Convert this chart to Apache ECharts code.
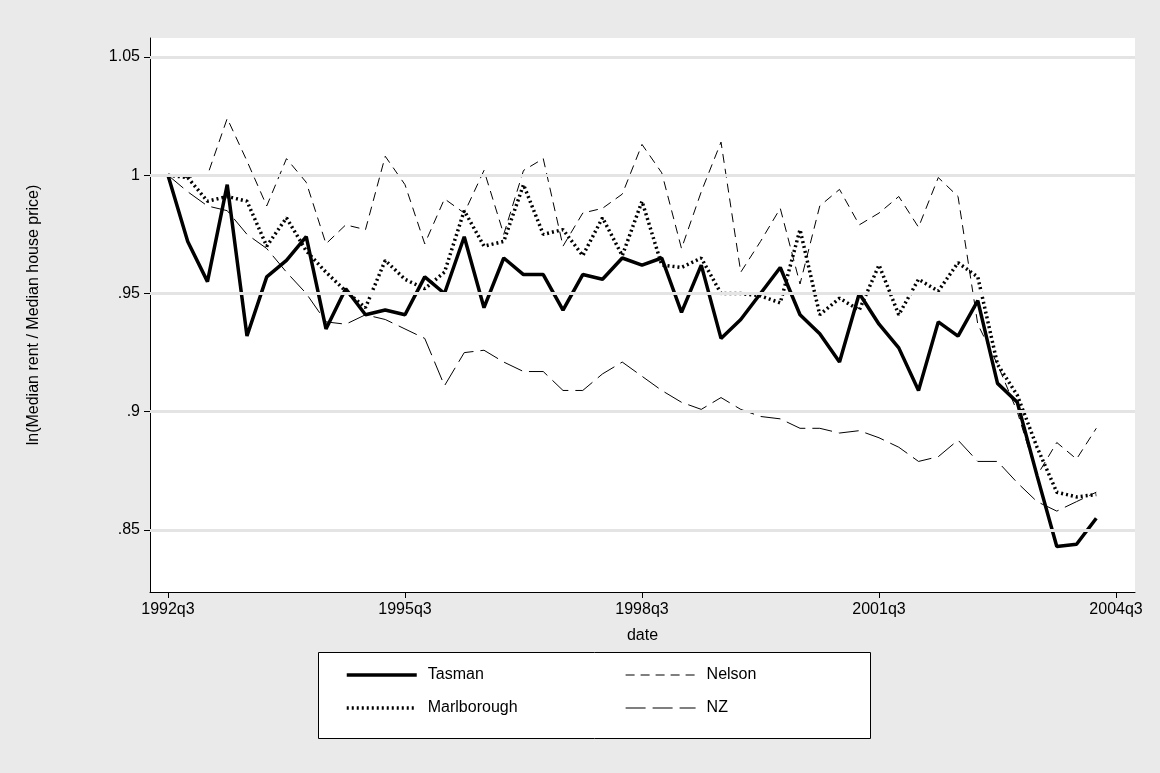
<!DOCTYPE html>
<html><head><meta charset="utf-8">
<script src="https://cdn.jsdelivr.net/npm/echarts@6/dist/echarts.min.js"></script>
<style>html,body{margin:0;background:#eaeaea}#c{width:1160px;height:773px}</style>
</head><body><div id="c"></div>
<script>
const quarterLabels = ['1992q3', '1995q3', '1998q3', '2001q3', '2004q3'];
const xTicks = [0, 12, 24, 36, 48];
const yTicks = [0.85, 0.9, 0.95, 1, 1.05];
const tasman = [1.000,.972,.955,.996,.932,.957,.964,.974,.935,.952,.941,.943,.941,.957,.950,.974,.944,.965,.958,.958,.943,.958,.956,.965,.962,.965,.942,.962,.931,.939,.950,.961,.941,.933,.921,.950,.937,.927,.909,.938,.932,.947,.912,.904,.873,.843,.844,.855];
const marlborough = [1.000,.999,.989,.991,.989,.970,.982,.968,.959,.951,.944,.964,.956,.952,.959,.985,.970,.972,.996,.975,.977,.966,.982,.966,.989,.962,.961,.965,.950,.950,.949,.946,.977,.941,.948,.943,.962,.941,.956,.951,.963,.957,.920,.907,.885,.866,.864,.865];
const nelson = [1.000,.999,1.000,1.024,1.006,.987,1.007,.997,.971,.979,.977,1.008,.996,.971,.990,.984,1.002,.975,1.002,1.007,.970,.984,.986,.992,1.013,1.001,.969,.993,1.014,.959,.972,.986,.954,.987,.994,.979,.984,.991,.978,.999,.991,.937,.920,.900,.873,.887,.880,.893];
const nz = [1.000,.993,.987,.985,.975,.969,.959,.950,.938,.937,.941,.939,.935,.931,.911,.925,.926,.921,.917,.917,.909,.909,.916,.921,.915,.909,.904,.901,.906,.901,.898,.897,.893,.893,.891,.892,.889,.885,.879,.881,.888,.879,.879,.870,.862,.858,.862,.866];

const chart = echarts.init(document.getElementById('c'));
const pts = a => a.map((v, i) => [i, v]);
const font = 'Liberation Sans, Arial, sans-serif';
const mk = (name, data, width, type) => ({
  name, type: 'line', data: pts(data), symbol: 'none', z: 3,
  lineStyle: {color: '#000', width, type}, itemStyle: {color: '#000'}
});
const gridLines = {
  silent: true, symbol: 'none', label: {show: false},
  lineStyle: {color: '#e4e4e4', width: 3, type: 'solid'},
  data: yTicks.map(v => ({yAxis: v}))
};
const tasmanSeries = mk('Tasman', tasman, 3.5, 'solid');
tasmanSeries.markLine = gridLines;
const legendText = {fontSize: 16, color: '#000', padding: [0, 0, 0, 6]};
chart.setOption({
  animation: false,
  backgroundColor: '#eaeaea',
  textStyle: {fontFamily: font},
  graphic: [
    {type: 'rect', z: -10, shape: {x: 318.5, y: 652.5, width: 552, height: 86}, style: {fill: '#fff', stroke: '#000', lineWidth: 1}}
  ],
  grid: {left: 150, right: 25, top: 38, bottom: 181, show: true, backgroundColor: '#fff', borderWidth: 0},
  xAxis: {
    type: 'value', min: -0.91, max: 48.96,
    name: 'date', nameLocation: 'middle', nameGap: 36,
    nameTextStyle: {fontSize: 16, color: '#000', fontFamily: font},
    axisLine: {onZero: false, lineStyle: {color: '#000'}},
    axisTick: {length: 6, lineStyle: {color: '#000'}, customValues: xTicks},
    axisLabel: {fontSize: 16, color: '#000', margin: 10, customValues: xTicks,
      formatter: v => quarterLabels[xTicks.indexOf(Math.round(v))]},
    splitLine: {show: false}
  },
  yAxis: {
    type: 'value', min: 0.8238, max: 1.058,
    name: 'ln(Median rent / Median house price)', nameLocation: 'middle', nameGap: 108,
    nameTextStyle: {fontSize: 16, color: '#000', fontFamily: font},
    axisLine: {show: true, onZero: false, lineStyle: {color: '#000'}},
    axisTick: {show: true, length: 6, lineStyle: {color: '#000'}, customValues: yTicks},
    axisLabel: {fontSize: 16, color: '#000', margin: 10, customValues: yTicks,
      formatter: v => { const s = (+v.toFixed(2)).toString(); return s.startsWith('0') ? s.slice(1) : s; }},
    splitLine: {show: false}
  },
  legend: [
    {left: 340, top: 662, orient: 'vertical', itemGap: 17, itemWidth: 70, itemHeight: 12, itemStyle: {opacity: 0},
     data: [{name: 'Tasman', lineStyle: {width: 3.5, color: '#000'}}, {name: 'Marlborough', lineStyle: {width: 3.5, color: '#000', type: [2, 3]}}],
     textStyle: legendText, selectedMode: false},
    {left: 620, top: 662, orient: 'vertical', itemGap: 17, itemWidth: 70, itemHeight: 12, itemStyle: {opacity: 0},
     data: [{name: 'Nelson', lineStyle: {width: 1.2, color: '#000', type: [9, 6]}}, {name: 'NZ', lineStyle: {width: 1.2, color: '#000', type: [20, 7]}}],
     textStyle: legendText, selectedMode: false}
  ],
  series: [
    tasmanSeries,
    mk('Nelson', nelson, 1, [9, 6]),
    mk('Marlborough', marlborough, 3.5, [2, 3]),
    mk('NZ', nz, 1, [20, 7])
  ]
});
</script></body></html>
